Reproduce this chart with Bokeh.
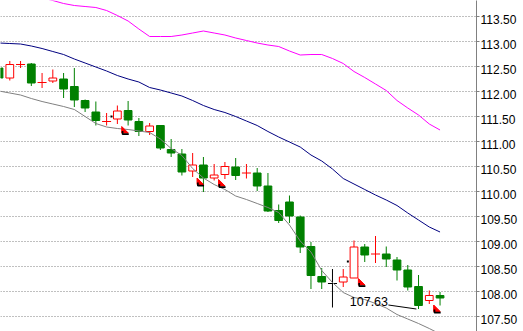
from bokeh.plotting import figure
from bokeh.models import Range1d, FixedTicker, LinearAxis, PrintfTickFormatter
from bokeh.embed import file_html
from bokeh.resources import INLINE
from bokeh.core.properties import value

# ---------------- data ----------------
opens = [112.46, 112.26, 112.53, 112.54, 112.17, 112.20, 112.24, 112.09, 111.81, 111.58,
         111.39, 111.44, 111.61, 111.39, 111.19, 111.31, 110.83, 110.74, 110.40, 110.52,
         110.26, 110.33, 110.48, 110.36, 110.36, 110.10, 109.61, 109.78, 109.48, 108.89,
         108.29, 108.15, 108.18, 108.26, 108.88, 108.74, 108.74, 108.62, 108.42, 108.09,
         107.81, 107.91]
highs = [112.50, 112.60, 112.60, 112.56, 112.36, 112.43, 112.36, 112.46, 111.83, 111.79,
         111.56, 111.71, 111.80, 111.46, 111.36, 111.32, 111.04, 110.84, 110.76, 110.68,
         110.54, 110.58, 110.66, 110.54, 110.46, 110.36, 109.73, 109.91, 109.51, 108.98,
         108.46, 108.44, 108.44, 109.01, 108.94, 109.10, 108.89, 108.68, 108.52, 108.32,
         108.01, 107.98]
lows = [112.22, 112.21, 112.46, 112.10, 112.06, 112.16, 111.86, 111.68, 111.58, 111.31,
        111.31, 111.34, 111.31, 111.10, 111.12, 110.82, 110.68, 110.31, 110.28, 109.98,
        110.21, 110.24, 110.22, 110.25, 110.00, 109.58, 109.36, 109.36, 108.76, 108.04,
        108.04, 107.67, 108.08, 108.26, 108.58, 108.56, 108.48, 108.21, 108.01, 107.64,
        107.74, 107.71]
closes = [112.26, 112.53, 112.53, 112.16, 112.17, 112.26, 112.04, 111.82, 111.66, 111.41,
          111.39, 111.60, 111.42, 111.19, 111.30, 110.86, 110.76, 110.38, 110.52, 110.26,
          110.32, 110.49, 110.31, 110.36, 110.10, 109.60, 109.41, 109.50, 108.88, 108.31,
          108.18, 108.15, 108.28, 108.88, 108.72, 108.74, 108.64, 108.42, 108.08, 107.71,
          107.91, 107.86]
black_doji_bars = [31]

ma_magenta = [114.09, 114.03, 113.97, 113.91, 113.86, 113.81, 113.75, 113.71, 113.69, 113.67,
              113.61, 113.51, 113.40, 113.24, 113.09, 113.09, 113.09, 113.12, 113.16, 113.20,
              113.16, 113.12, 113.06, 113.01, 112.96, 112.92, 112.89, 112.80, 112.72, 112.73,
              112.73, 112.65, 112.55, 112.39, 112.27, 112.14, 112.01, 111.81, 111.66, 111.52,
              111.34, 111.22]
ma_navy = [112.96, 112.95, 112.94, 112.90, 112.85, 112.79, 112.73, 112.64, 112.56, 112.48,
           112.40, 112.31, 112.24, 112.18, 112.07, 112.02, 111.96, 111.90, 111.81, 111.71,
           111.63, 111.57, 111.49, 111.40, 111.31, 111.19, 111.08, 110.98, 110.88, 110.72,
           110.60, 110.44, 110.25, 110.14, 110.03, 109.92, 109.82, 109.71, 109.56, 109.42,
           109.28, 109.18]
ma_gray = [112.00, 111.96, 111.92, 111.85, 111.79, 111.74, 111.69, 111.63, 111.49, 111.35,
           111.28, 111.25, 111.23, 111.20, 111.17, 111.04, 110.85, 110.71, 110.45, 110.26,
           110.13, 110.03, 109.90, 109.83, 109.75, 109.67, 109.57, 109.32, 109.00, 108.78,
           108.41, 108.17, 107.97, 107.87, 107.83, 107.75, 107.66, 107.53, 107.44, 107.35,
           107.25, 107.14]

arrow_bars = [11, 18, 20, 33, 40]
arrow_prices = [111.29, 110.26, 110.23, 108.25, 107.72]
open_mark_x = [10.45, 32.43]
open_mark_prices = [111.49, 108.59]
close_line_x = [36.2, 38.8]
close_line_prices = [107.72, 107.64]
price_label_x = [32.61]
price_label_y = [107.79]
price_label_text = ["107.63"]

y_ticks = [107.5, 108.0, 108.5, 109.0, 109.5, 110.0, 110.5, 111.0, 111.5, 112.0, 112.5, 113.0, 113.5]

# ---------------- layout constants ----------------
GREEN = "#008000"
RED = "#ff0000"
X0, X1 = 0.135, 44.39
Y0, Y1 = 107.19, 113.81
PX_X = (X1 - X0) / 476.0      # index units per pixel
PX_Y = (Y1 - Y0) / 331.0      # price units per pixel
BODY_W = 0.72
DOJI_HALF = 0.42

p = figure(width=523, height=331, output_backend="svg", toolbar_location=None,
           x_range=Range1d(X0, X1), y_range=Range1d(Y0, Y1),
           x_axis_location=None, y_axis_location="right",
           min_border_left=0, min_border_top=0, min_border_bottom=0, min_border_right=47)
p.outline_line_color = None
p.background_fill_color = "white"
p.border_fill_color = "white"
p.xgrid.visible = False

# axis line + short tick marks (as minor ticks, so no labels are drawn here)
ax = p.yaxis[0]
ax.ticker = FixedTicker(ticks=[], minor_ticks=y_ticks)
ax.axis_line_color = "#808080"
ax.major_tick_line_color = None
ax.major_tick_in = 0
ax.major_tick_out = 0
ax.minor_tick_line_color = "#808080"
ax.minor_tick_in = 0
ax.minor_tick_out = 3
ax.major_label_standoff = 0

p.ygrid.ticker = FixedTicker(ticks=y_ticks)
p.ygrid.grid_line_color = "#808080"
p.ygrid.grid_line_dash = "1 2"

# label axis on a range shifted by 3px so labels sit just below gridlines
shift = 3 * PX_Y
p.extra_y_ranges = {"lab": Range1d(Y0 + shift, Y1 + shift)}
lab = LinearAxis(y_range_name="lab", ticker=FixedTicker(ticks=y_ticks),
                 formatter=PrintfTickFormatter(format="%.2f"),
                 axis_line_color=None, major_tick_line_color=None,
                 minor_tick_line_color=None, major_tick_in=0, major_tick_out=0,
                 major_label_standoff=1,
                 major_label_text_font="Liberation Sans",
                 major_label_text_font_size="12px",
                 major_label_text_color="black")
p.add_layout(lab, "right")

# ---------------- candles ----------------
idx = list(range(len(opens)))
down = [i for i in idx if closes[i] < opens[i]]
up = [i for i in idx if closes[i] > opens[i]]
doji = [i for i in idx if closes[i] == opens[i]]

def wick_color(i):
    if closes[i] < opens[i]:
        return GREEN
    if closes[i] > opens[i]:
        return RED
    return "black" if i in black_doji_bars else RED

p.segment(x0=idx, y0=lows, x1=idx, y1=highs, line_color=[wick_color(i) for i in idx], line_width=1)

p.vbar(x=down, width=BODY_W, top=[opens[i] for i in down], bottom=[closes[i] for i in down],
       fill_color=GREEN, line_color=GREEN, line_width=1)
p.vbar(x=up, width=BODY_W, top=[closes[i] for i in up], bottom=[opens[i] for i in up],
       fill_color="white", line_color=RED, line_width=1)
p.segment(x0=[i - DOJI_HALF for i in doji], y0=[opens[i] for i in doji],
          x1=[i + DOJI_HALF for i in doji], y1=[opens[i] for i in doji],
          line_color=[wick_color(i) for i in doji], line_width=1)

# ---------------- indicator lines ----------------
p.line(idx, ma_magenta, line_color="#ff00ff", line_width=1)
p.line(idx, ma_navy, line_color="#000080", line_width=1)
p.line(idx, ma_gray, line_color="#808080", line_width=1)

# ---------------- trade markers ----------------
ax_off = 4.4 * PX_X
tri_xs, tri_ys, l_xs, l_ys = [], [], [], []
for b, pr in zip(arrow_bars, arrow_prices):
    x = b + ax_off
    tri_xs.append([x, x, x + 6.5 * PX_X])
    tri_ys.append([pr, pr - 6.5 * PX_Y, pr - 6.5 * PX_Y])
    l_xs.append([x + 0.8 * PX_X, x + 0.8 * PX_X, x + 7.0 * PX_X])
    l_ys.append([pr - 4.5 * PX_Y, pr - 7.7 * PX_Y, pr - 7.7 * PX_Y])
p.patches(tri_xs, tri_ys, fill_color=RED, line_color=RED, line_width=1)
p.multi_line(l_xs, l_ys, line_color="black", line_width=1.7)

p.rect(x=open_mark_x, y=open_mark_prices, width=2, height=2,
       width_units="screen", height_units="screen", fill_color="black", line_color=None)
p.line(close_line_x, close_line_prices, line_color="black", line_width=1)

p.text(x=price_label_x, y=price_label_y, text=price_label_text,
       text_font=value("Liberation Sans"), text_font_size="12.5px",
       text_color="black", text_align="left", text_baseline="alphabetic")

open("out.html", "w").write(file_html(p, INLINE))
